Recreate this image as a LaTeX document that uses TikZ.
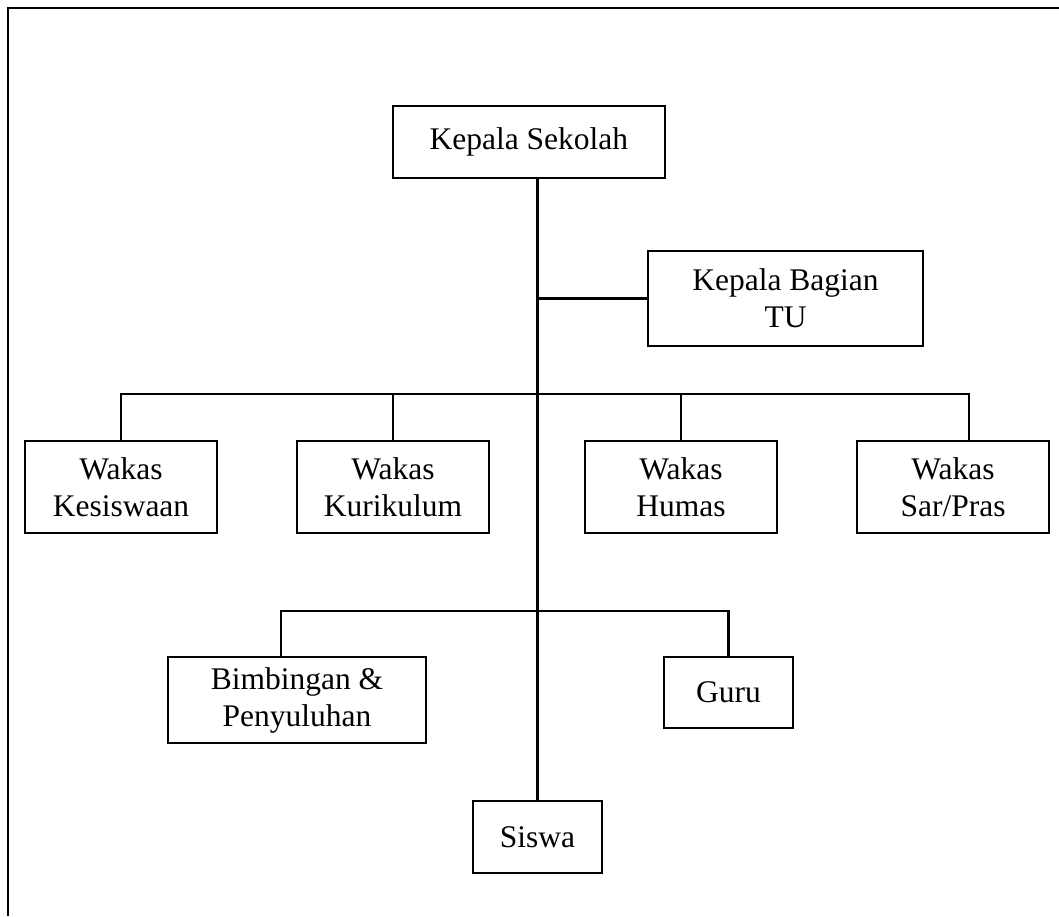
\documentclass[tikz,border=0pt]{standalone}
\usepackage{fontspec}
\setmainfont{Liberation Serif}
\begin{document}
\begin{tikzpicture}[x=1pt,y=-1pt,
  box/.style={draw,line width=2.2pt,rectangle,inner sep=0pt,align=center,
    font=\fontsize{31.5}{37}\selectfont},
  link/.style={line width=2.2pt}]
\useasboundingbox (0,0) rectangle (1059,916);
\draw[line width=2.6pt] (8,916) -- (8,8) -- (1059,8);
\node[box,minimum width=272pt,minimum height=72pt] (ks) at (528.9,142) {Kepala Sekolah};
\node[box,minimum width=275pt,minimum height=95pt] (tu) at (785.5,298.5) {Kepala Bagian\\TU};
\node[box,minimum width=192pt,minimum height=92pt] (wk1) at (121,487) {Wakas\\Kesiswaan};
\node[box,minimum width=192pt,minimum height=92pt] (wk2) at (393,487) {Wakas\\Kurikulum};
\node[box,minimum width=192pt,minimum height=92pt] (wk3) at (681,487) {Wakas\\Humas};
\node[box,minimum width=192pt,minimum height=92pt] (wk4) at (953,487) {Wakas\\Sar/Pras};
\node[box,minimum width=258pt,minimum height=86pt] (bp) at (297,700) {Bimbingan \&\\Penyuluhan};
\node[box,minimum width=129pt,minimum height=71pt] (guru) at (728.5,692.5) {Guru};
\node[box,minimum width=129pt,minimum height=72pt] (siswa) at (537.5,837) {Siswa};
\coordinate (bar1) at (0,394);
\coordinate (bar2) at (0,611);
\draw[link] (siswa.north |- ks.south) -- (siswa.north);
\draw[link] (siswa.north |- tu.west) -- (tu.west);
\draw[link] (wk1.north) -- (wk1.north |- bar1) -- ([xshift=16pt]wk4.north |- bar1) -- ([xshift=16pt]wk4.north);
\draw[link] (wk2.north) -- (wk2.north |- bar1);
\draw[link] (wk3.north) -- (wk3.north |- bar1);
\draw[link] ([xshift=-16pt]bp.north) -- ([xshift=-16pt]bp.north |- bar2) -- (guru.north |- bar2) -- (guru.north);
\end{tikzpicture}
\end{document}
